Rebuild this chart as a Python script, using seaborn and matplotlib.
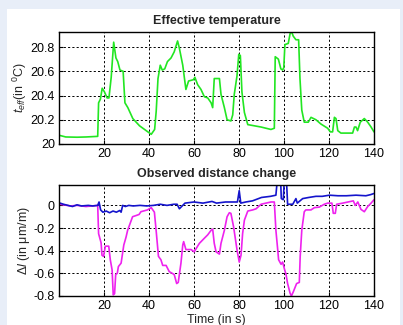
import numpy as np
import pandas as pd
import matplotlib
matplotlib.use('Agg')
import matplotlib.pyplot as plt
from matplotlib.patches import Rectangle
import seaborn as sns

# Effective temperature (top panel)
temp_t = [0.5, 3, 8, 12, 17.2, 17.6, 18.4, 19.2, 20.2, 21.4, 22.2, 23.2, 24.3, 25.3, 26.1,
          27.1, 28.5, 29.3, 30.6, 32.8, 35.8, 39.5, 41.0, 42.5, 43.2, 44.0, 45.0, 45.9, 47.0,
          48.2, 49.8, 51.2, 52.7, 53.5, 55.0, 56.4, 57.6, 59.7, 60.4, 61.6, 63.1, 64.6, 66.1,
          67.6, 68.3, 69.0, 71.3, 72.0, 73.5, 74.7, 76.4, 77.2, 77.9, 79.1, 79.9, 80.6, 81.3,
          82.4, 83.9, 89.8, 94.2, 95.7, 96.1, 97.5, 98.6, 99.4, 99.9, 100.4, 101.9, 102.7,
          103.3, 104.1, 105.3, 106.5, 107.1, 107.9, 109.0, 110.8, 112.0, 114.2, 116.4, 119.4,
          120.6, 121.6, 122.4, 123.1, 123.9, 125.3, 130.5, 131.3, 132.0, 132.7, 133.9, 135.7,
          137.2, 138.7, 140.0]
temp_v = [20.07, 20.058, 20.056, 20.058, 20.063, 20.34, 20.37, 20.46, 20.43, 20.38, 20.38,
          20.55, 20.84, 20.71, 20.68, 20.61, 20.60, 20.34, 20.30, 20.21, 20.15, 20.10, 20.08,
          20.12, 20.27, 20.54, 20.65, 20.61, 20.62, 20.68, 20.71, 20.76, 20.85, 20.79, 20.65,
          20.45, 20.52, 20.53, 20.55, 20.49, 20.45, 20.39, 20.38, 20.34, 20.30, 20.54, 20.54,
          20.41, 20.30, 20.20, 20.19, 20.24, 20.41, 20.56, 20.74, 20.73, 20.43, 20.26, 20.16,
          20.14, 20.12, 20.13, 20.72, 20.70, 20.62, 20.61, 20.63, 20.82, 20.83, 20.91, 20.93,
          20.89, 20.86, 20.86, 20.54, 20.28, 20.18, 20.18, 20.22, 20.20, 20.165, 20.13, 20.10,
          20.10, 20.22, 20.21, 20.11, 20.09, 20.09, 20.14, 20.14, 20.11, 20.18, 20.21, 20.18,
          20.14, 20.10]

# Observed distance change, magenta series
mag_t = [0.5, 5, 8, 12, 17.2, 17.6, 18.7, 19.1, 19.8, 20.6, 22.1, 22.8, 23.6, 24.1, 24.7,
         25.2, 25.9, 26.4, 27.6, 28.8, 29.8, 30.5, 32.7, 34.2, 35.6, 36.4, 39.3, 41.0, 42.4,
         43.3, 44.2, 45.3, 46.1, 47.6, 49.0, 51.2, 52.3, 53.0, 54.2, 55.0, 55.4, 56.4, 58.7,
         60.1, 61.6, 62.4, 64.6, 66.1, 67.6, 68.3, 69.0, 69.8, 71.3, 72.0, 73.5, 74.7, 75.7,
         76.4, 77.6, 79.1, 80.1, 80.9, 81.6, 82.4, 83.9, 86.1, 87.6, 89.8, 94.2, 95.7, 96.4,
         97.2, 97.6, 98.7, 99.4, 100.1, 100.9, 101.6, 102.7, 103.3, 104.2, 105.6, 106.8,
         107.2, 107.9, 109.0, 109.7, 112.0, 113.5, 115.7, 117.9, 119.4, 121.3, 121.9, 122.8,
         123.4, 126.1, 130.8, 131.7, 132.8, 134.2, 135.7, 137.2, 138.7, 140.0]
mag_v = [0.01, -0.005, 0.0, -0.01, 0.0, -0.25, -0.33, -0.44, -0.45, -0.36, -0.36, -0.48,
         -0.57, -0.79, -0.78, -0.61, -0.60, -0.54, -0.51, -0.35, -0.28, -0.22, -0.10, -0.09,
         -0.08, -0.056, -0.04, -0.02, -0.06, -0.25, -0.45, -0.48, -0.53, -0.53, -0.585, -0.61,
         -0.69, -0.68, -0.51, -0.35, -0.32, -0.39, -0.39, -0.41, -0.36, -0.335, -0.29, -0.26,
         -0.22, -0.21, -0.335, -0.41, -0.43, -0.335, -0.22, -0.10, -0.065, -0.07, -0.19,
         -0.39, -0.50, -0.44, -0.25, -0.13, -0.05, -0.04, -0.03, 0.01, 0.03, 0.03, -0.22,
         -0.39, -0.48, -0.52, -0.50, -0.555, -0.61, -0.69, -0.775, -0.80, -0.76, -0.69, -0.68,
         -0.45, -0.22, -0.056, -0.04, -0.04, -0.02, -0.015, 0.01, 0.02, 0.02, -0.07, -0.07,
         0.01, 0.02, 0.04, 0.0, 0.03, -0.035, -0.056, -0.01, 0.02, 0.05]

# Observed distance change, blue series
blue_t = [0.5, 2, 4, 6, 8, 10, 13, 15, 17.2, 17.8, 18.5, 19.5, 21, 22.5, 24, 25.5, 27.0,
          27.6, 28.3, 29.5, 31, 33, 36, 39, 42, 45, 48, 51, 52.5, 53.5, 54.5, 56, 60, 64, 68,
          70, 74, 78, 79.3, 80.1, 80.8, 83, 86, 90, 94, 96.4, 97.0, 98.5, 98.8, 99.7, 100.1,
          101.1, 101.6, 103.9, 105.3, 105.9, 108.3, 111, 114.2, 117, 120.2, 124, 127.7, 132,
          136.4, 138.5, 140.0]
blue_v = [0.02, 0.01, 0.0, -0.01, 0.005, -0.005, 0.0, -0.005, 0.0, 0.03, -0.04, -0.06,
          -0.05, -0.065, -0.05, -0.06, -0.045, -0.06, 0.0, -0.01, 0.0, -0.005, 0.0, -0.005,
          0.0, 0.01, 0.0, 0.01, 0.01, -0.03, -0.01, 0.02, 0.03, 0.02, 0.035, 0.02, 0.03, 0.03,
          0.03, 0.13, 0.02, 0.03, 0.04, 0.07, 0.08, 0.09, 0.22, 0.22, 0.06, 0.05, 0.22, 0.22,
          0.01, 0.01, 0.06, 0.02, 0.06, 0.07, 0.08, 0.08, 0.09, 0.085, 0.085, 0.09, 0.085,
          0.095, 0.105]

temp_ticks = [20, 20.2, 20.4, 20.6, 20.8]
temp_ticklabels = ['20', '20.2', '20.4', '20.6', '20.8']
dist_ticks = [-0.8, -0.6, -0.4, -0.2, 0]
dist_ticklabels = ['-0.8', '-0.6', '-0.4', '-0.2', '0']
time_ticks = [20, 40, 60, 80, 100, 120, 140]

sns.set_style('ticks')
plt.rcParams['font.family'] = ['Liberation Sans', 'DejaVu Sans']
plt.rcParams['font.size'] = 9
plt.rcParams['mathtext.fontset'] = 'custom'
plt.rcParams['mathtext.it'] = 'Liberation Sans:italic'
plt.rcParams['mathtext.rm'] = 'Liberation Sans'

fig = plt.figure(figsize=(4.03, 3.25), dpi=100)
fig.patch.set_facecolor('#e8eef8')
fig.patches.append(Rectangle((7 / 403, 0), 393 / 403, 1 - 9 / 325,
                             transform=fig.transFigure, facecolor='white',
                             edgecolor='none', zorder=-10))

ax1 = fig.add_axes([59 / 403, 1 - 144 / 325, 315 / 403, 112 / 325])
ax2 = fig.add_axes([59 / 403, 1 - 296 / 325, 315 / 403, 111 / 325])

temp_df = pd.DataFrame({'t': temp_t, 'v': temp_v})
mag_df = pd.DataFrame({'t': mag_t, 'v': mag_v})
blue_df = pd.DataFrame({'t': blue_t, 'v': blue_v})

sns.lineplot(data=temp_df, x='t', y='v', ax=ax1, color='#22e622', lw=1.2,
             estimator=None, sort=False)
sns.lineplot(data=mag_df, x='t', y='v', ax=ax2, color='#ee22ee', lw=1.2,
             estimator=None, sort=False)
sns.lineplot(data=blue_df, x='t', y='v', ax=ax2, color='#1414cc', lw=1.2,
             estimator=None, sort=False)

for ax in (ax1, ax2):
    ax.set_xlim(0, 140)
    ax.set_xticks(time_ticks)
    ax.set_xticklabels([str(x) for x in time_ticks])
    ax.grid(True, color='black', linestyle=(0, (2.2, 2.2)), linewidth=0.7)
    ax.tick_params(direction='in', length=3, colors='black', labelsize=9, pad=3)
    for s in ax.spines.values():
        s.set_color('black')
        s.set_linewidth(1.0)
    ax.set_facecolor('white')

ax1.set_ylim(20, 20.924)
ax1.set_yticks(temp_ticks)
ax1.set_yticklabels(temp_ticklabels)
ax1.set_title('Effective temperature', fontsize=9, fontweight='bold', pad=6)
ax1.set_xlabel('')
ax1.set_ylabel(r'$t_{eff}$(in $^0$C)', fontsize=9, labelpad=1)

ax2.set_ylim(-0.8, 0.18)
ax2.set_yticks(dist_ticks)
ax2.set_yticklabels(dist_ticklabels)
ax2.set_title('Observed distance change', fontsize=9, fontweight='bold', pad=6)
ax2.set_xlabel('Time (in s)', fontsize=9, labelpad=1)
ax2.set_ylabel(r'$\Delta l$ (in μm/m)', fontsize=9, labelpad=1)

fig.savefig('out.png', dpi=100, facecolor=fig.get_facecolor())
